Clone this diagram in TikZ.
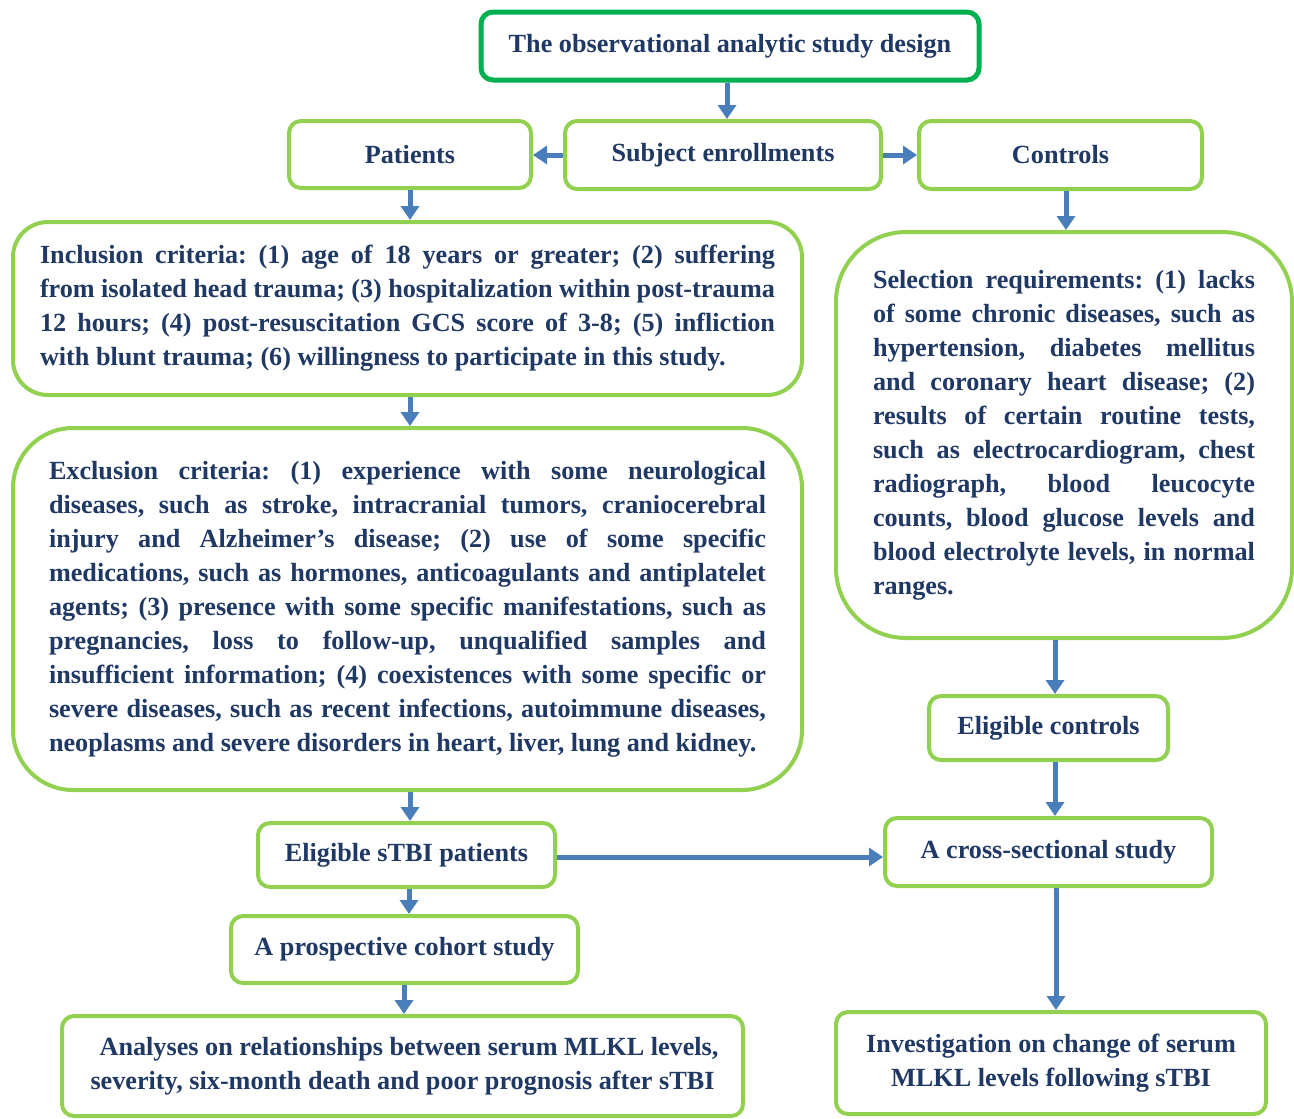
\documentclass[tikz,border=0pt]{standalone}
\usepackage{fontspec}
\setmainfont{Liberation Serif}
\usepackage{tikz}
\usetikzlibrary{arrows.meta, positioning}

\definecolor{boxgreen}{RGB}{146,208,80}
\definecolor{titlegreen}{RGB}{0,176,80}
\definecolor{arrowblue}{RGB}{74,126,187}
\definecolor{textnavy}{RGB}{31,56,100}

\frenchspacing

\begin{document}
\begin{tikzpicture}[x=1pt,y=-1pt,
  box/.style={draw=boxgreen, line width=4pt, rounded corners=12pt, fill=white,
              text=textnavy, inner sep=0pt, align=center,
              font=\fontsize{26.2}{34}\selectfont\bfseries},
  textbox/.style={box, align=justify},
  arr/.style={draw=arrowblue, line width=5pt, -{Triangle[length=14pt,width=18pt]}}]

\useasboundingbox (0,0) rectangle (1294,1119);

% --- TOP ---
\node[box, draw=titlegreen, line width=5pt, minimum width=498pt, minimum height=68pt]
  (design) at (730,46) {The observational analytic study design};

% --- SECOND ROW ---
\node[box, minimum width=242pt, minimum height=67pt] (patients) at (410,154.5) {Patients};
\node[box, minimum width=316pt, minimum height=68pt] (enrol) at (723,155) {Subject enrollments};
\node[box, minimum width=283pt, minimum height=68pt] (controls) at (1060.5,155) {Controls};

% --- PATIENT CRITERIA ---
\node[textbox, rounded corners=35pt, minimum width=789pt, minimum height=173pt, text width=735pt]
  (incl) at (407.5,308.5) {\hyphenpenalty=10000
  Inclusion criteria: (1) age of 18 years or greater; (2) suffering\linebreak
  from isolated head trauma; (3) hospitalization within post-trauma\linebreak
  12 hours; (4) post-resuscitation GCS score of 3-8; (5) infliction\linebreak
  with blunt trauma; (6) willingness to participate in this study.};

\node[textbox, rounded corners=60pt, minimum width=789pt, minimum height=362pt, text width=717pt]
  (excl) at (407.5,609) {\hyphenpenalty=10000
  Exclusion criteria: (1) experience with some neurological\linebreak
  diseases, such as stroke, intracranial tumors, craniocerebral\linebreak
  injury and Alzheimer’s disease; (2) use of some specific\linebreak
  medications, such as hormones, anticoagulants and antiplatelet\linebreak
  agents; (3) presence with some specific manifestations, such as\linebreak
  pregnancies, loss to follow-up, unqualified samples and\linebreak
  insufficient information; (4) coexistences with some specific or\linebreak
  severe diseases, such as recent infections, autoimmune diseases,\linebreak
  neoplasms and severe disorders in heart, liver, lung and kidney.};

% --- CONTROL CRITERIA ---
\node[textbox, rounded corners=70pt, minimum width=456pt, minimum height=406pt, text width=382pt]
  (select) at (1064,435) {\hyphenpenalty=10000
  Selection requirements: (1) lacks\linebreak
  of some chronic diseases, such as\linebreak
  hypertension, diabetes mellitus\linebreak
  and coronary heart disease; (2)\linebreak
  results of certain routine tests,\linebreak
  such as electrocardiogram, chest\linebreak
  radiograph, blood leucocyte\linebreak
  counts, blood glucose levels and\linebreak
  blood electrolyte levels, in normal\linebreak
  ranges.};

% --- ELIGIBLE ---
\node[box, minimum width=239pt, minimum height=64pt] (elctrl) at (1048.5,728) {Eligible controls};
\node[box, minimum width=327pt, minimum height=68pt] (cross) at (1048.5,852) {A cross-sectional study};
\node[box, minimum width=297pt, minimum height=64pt] (elpat) at (406.5,855) {Eligible sTBI patients};
\node[box, minimum width=347pt, minimum height=67pt] (cohort) at (404.5,949.5) {A prospective cohort study};

% --- OUTCOMES ---
\node[box, minimum width=681pt, minimum height=100pt] (analyses) at (402.5,1066)
  {\ \ Analyses on relationships between serum MLKL levels,\\
   severity, six-month death and poor prognosis after sTBI};
\node[box, minimum width=430pt, minimum height=102pt] (invest) at (1051,1063)
  {Investigation on change of serum\\ MLKL levels following sTBI};

% --- ARROWS ---
\draw[arr] (design.south -| 727,0) -- (enrol.north -| 727,0);
\draw[arr] (enrol.west) -- (patients.east |- enrol.west);
\draw[arr] (enrol.east) -- (controls.west |- enrol.east);
\draw[arr] (patients.south) -- (incl.north -| patients.south);
\draw[arr] (controls.south -| 1066,0) -- (select.north -| 1066,0);
\draw[arr] (incl.south -| 410,0) -- (excl.north -| 410,0);
\draw[arr] (select.south -| 1055,0) -- (elctrl.north -| 1055,0);
\draw[arr] (elctrl.south -| 1055,0) -- (cross.north -| 1055,0);
\draw[arr] (excl.south -| 410,0) -- (elpat.north -| 410,0);
\draw[arr] (elpat.east |- 0,857) -- (cross.west |- 0,857);
\draw[arr] (elpat.south -| 409,0) -- (cohort.north -| 409,0);
\draw[arr] (cohort.south -| 404,0) -- (analyses.north -| 404,0);
\draw[arr] (cross.south -| 1056,0) -- (invest.north -| 1056,0);
\end{tikzpicture}
\end{document}
